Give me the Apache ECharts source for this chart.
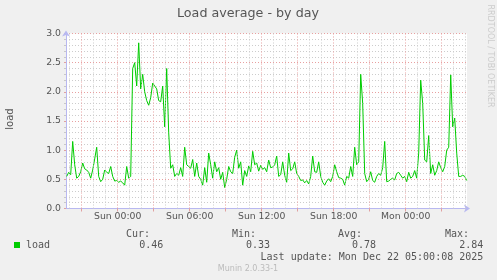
<!DOCTYPE html>
<html><head><meta charset="utf-8">
<script src="https://cdn.jsdelivr.net/npm/echarts@6/dist/echarts.min.js"></script>
<style>html,body{margin:0;padding:0;background:#f0f0f0}#c{width:497px;height:280px}</style>
</head><body><div id="c"></div>
<script>
// time is in hours relative to Sun 00:00; samples every 10 minutes
const startHour = -4.25;
const stepHours = 1 / 6;
const loadValues = [
0.55,0.62,0.58,1.15,0.75,0.52,0.55,0.63,0.78,0.68,
0.66,0.62,0.52,0.66,0.85,1.05,0.55,0.46,0.50,0.66,
0.62,0.60,0.72,0.55,0.47,0.48,0.45,0.47,0.44,0.40,
0.72,0.52,0.55,2.40,2.50,2.10,2.84,2.05,2.30,2.00,
1.85,1.77,1.90,2.15,2.10,2.05,1.85,1.83,2.10,1.40,
2.40,1.30,0.69,0.75,0.55,0.60,0.57,0.70,0.55,1.05,
0.75,0.72,0.69,0.84,0.55,0.78,0.55,0.50,0.40,0.70,
0.45,0.95,0.75,0.52,0.80,0.63,0.70,0.50,0.62,0.36,
0.50,0.72,0.63,0.60,0.88,1.00,0.69,0.80,0.40,0.65,
0.55,0.73,0.63,0.98,0.75,0.78,0.64,0.74,0.67,0.70,
0.63,0.83,0.70,0.71,0.75,0.90,0.55,0.58,0.80,0.57,
0.45,0.95,0.65,0.68,0.80,0.60,0.55,0.48,0.49,0.44,
0.48,0.42,0.55,0.90,0.63,0.62,0.80,0.55,0.45,0.40,
0.47,0.51,0.46,0.55,0.75,0.63,0.53,0.52,0.50,0.40,
0.55,0.52,0.72,0.55,1.05,0.75,0.80,2.30,1.80,0.60,
0.46,0.50,0.63,0.48,0.45,0.55,0.60,0.57,0.70,1.15,
0.46,0.47,0.50,0.52,0.49,0.60,0.62,0.57,0.52,0.55,
0.46,0.62,0.52,0.55,0.65,0.52,0.95,2.20,1.80,0.83,
0.80,1.25,0.60,0.75,0.57,0.65,0.80,0.70,0.63,0.72,
1.00,1.05,2.29,1.40,1.55,0.95,0.55,0.55,0.57,0.55,
0.48
];
const labelHours = [0, 6, 12, 18, 24];
const tickLabels = ['Sun 00:00', 'Sun 06:00', 'Sun 12:00', 'Sun 18:00', 'Mon 00:00'];
const majorGridHours = [-3, 0, 3, 6, 9, 12, 15, 18, 21, 24, 27];
const minorGridHours = [-4, -2, -1, 1, 2, 4, 5, 7, 8, 10, 11, 13, 14, 16, 17, 19, 20, 22, 23, 25, 26, 28, 29];
const statHeads = ['Cur:', 'Min:', 'Avg:', 'Max:'];
const statValues = ['0.46', '0.33', '0.78', '2.84'];
const seriesName = 'load';
const lastUpdate = 'Last update: Mon Dec 22 05:00:08 2025';

const chart = echarts.init(document.getElementById('c'), null, {renderer: 'canvas'});
const lineData = loadValues.map((v, i) => [startHour + i * stepHours, v]);
const vLines = (hours) => hours.map(h => [{coord: [h, 0]}, {coord: [h, 3]}]);
const headRight = [150, 256, 362, 469];
const valRight = [163.3, 270, 376, 483.3];
const sans = '"DejaVu Sans", sans-serif';
const mono = '"DejaVu Sans Mono", monospace';
const graphics = [
  {type: 'text', x: 248, y: 14, style: {text: 'Load average - by day', font: '12.7px ' + sans, fill: '#555', align: 'center', verticalAlign: 'middle'}},
  {type: 'text', x: 10.5, y: 119, rotation: Math.PI / 2, style: {text: 'load', font: '10px ' + sans, fill: '#555', align: 'center', verticalAlign: 'middle'}},
  {type: 'text', x: 490, y: 56, rotation: -Math.PI / 2, style: {text: 'RRDTOOL / TOBI OETIKER', font: '8px ' + sans, fill: '#ccc', align: 'center', verticalAlign: 'middle'}},
  {type: 'rect', shape: {x: 14, y: 242, width: 6, height: 6}, style: {fill: '#00cc00'}},
  {type: 'text', x: 26, y: 245.5, style: {text: seriesName, font: '10px ' + mono, fill: '#555', align: 'left', verticalAlign: 'middle'}},
  {type: 'text', x: 483.3, y: 257.3, style: {text: lastUpdate, font: '10px ' + mono, fill: '#555', align: 'right', verticalAlign: 'middle'}},
  {type: 'text', x: 248, y: 269.3, style: {text: 'Munin 2.0.33-1', font: '8px ' + sans, fill: '#bbb', align: 'center', verticalAlign: 'middle'}}
];
statHeads.forEach((t, i) => graphics.push({type: 'text', x: headRight[i], y: 234, style: {text: t, font: '10px ' + mono, fill: '#555', align: 'right', verticalAlign: 'middle'}}));
statValues.forEach((t, i) => graphics.push({type: 'text', x: valRight[i], y: 245.5, style: {text: t, font: '10px ' + mono, fill: '#555', align: 'right', verticalAlign: 'middle'}}));

chart.setOption({
  animation: false,
  backgroundColor: '#f0f0f0',
  grid: {left: 66, right: 30, top: 33.5, bottom: 71.5, show: true, backgroundColor: '#ffffff', borderWidth: 0},
  xAxis: {
    type: 'value', min: -4.308, max: 29.108,
    axisLine: {onZero: false, lineStyle: {color: '#b8b8f0', width: 1}, symbol: ['none', 'arrow'], symbolSize: [6, 6], symbolOffset: [0, 3]},
    axisTick: {show: true, customValues: majorGridHours, length: 3, lineStyle: {color: '#e0a0a0'}},
    axisLabel: {customValues: labelHours, margin: 4, color: '#555', fontFamily: 'DejaVu Sans', fontSize: 9.3,
      formatter: (v) => { const k = labelHours.indexOf(Math.round(v)); return k >= 0 ? tickLabels[k] : ''; }},
    splitLine: {show: false}
  },
  yAxis: {
    type: 'value', min: 0, max: 3, interval: 0.5,
    axisLine: {show: true, onZero: false, lineStyle: {color: '#b8b8f0', width: 1}, symbol: ['none', 'arrow'], symbolSize: [6, 6], symbolOffset: [0, 3]},
    axisTick: {show: true, length: 2, lineStyle: {color: '#e0a0a0'}},
    minorTick: {show: true, splitNumber: 5, length: 2, lineStyle: {color: '#c8c8c8'}},
    axisLabel: {margin: 5, color: '#555', fontFamily: 'DejaVu Sans', fontSize: 9.3, formatter: (v) => v.toFixed(1)},
    splitLine: {show: true, lineStyle: {color: '#e8a0a0', type: [1, 2], width: 1}},
    minorSplitLine: {show: true, lineStyle: {color: '#cccccc', type: [1, 2], width: 1}}
  },
  graphic: graphics,
  series: [
    {type: 'line', data: [], silent: true, z: 1,
      markLine: {silent: true, symbol: ['none', 'none'], label: {show: false}, animation: false,
        lineStyle: {color: '#cccccc', type: [1, 2], width: 1}, data: vLines(minorGridHours)}},
    {type: 'line', data: [], silent: true, z: 1,
      markLine: {silent: true, symbol: ['none', 'none'], label: {show: false}, animation: false,
        lineStyle: {color: '#e8a0a0', type: [1, 2], width: 1}, data: vLines(majorGridHours)}},
    {type: 'line', name: seriesName, data: lineData, showSymbol: false, z: 3,
      lineStyle: {color: '#00cc00', width: 1}, itemStyle: {color: '#00cc00'}}
  ]
});
</script></body></html>
